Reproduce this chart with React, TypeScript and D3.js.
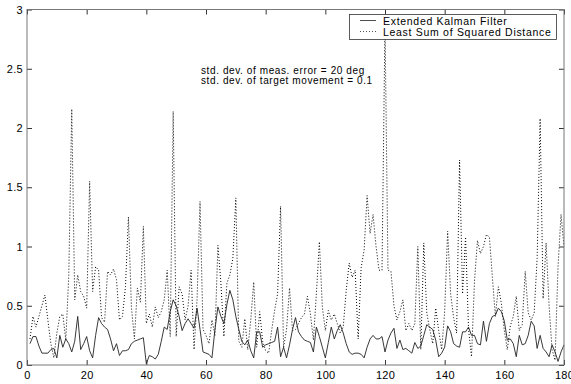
import { useRef, useEffect } from 'react'
import { select, scaleLinear, axisLeft, axisBottom, axisTop, axisRight, line } from 'd3'

// error per step (steps 1..180)
const ekf = [
  0.18, 0.24, 0.24, 0.16, 0.10, 0.10, 0.10, 0.13, 0.14, 0.06,
  0.25, 0.15, 0.22, 0.18, 0.11, 0.20, 0.41, 0.13, 0.18, 0.24,
  0.12, 0.06, 0.25, 0.40, 0.35, 0.32, 0.30, 0.22, 0.12, 0.18,
  0.08, 0.12, 0.12, 0.13, 0.18, 0.20, 0.21, 0.22, 0.23, 0.01,
  0.08, 0.07, 0.05, 0.09, 0.20, 0.32, 0.30, 0.45, 0.55, 0.50,
  0.41, 0.29, 0.35, 0.39, 0.35, 0.31, 0.48, 0.30, 0.11, 0.10,
  0.09, 0.06, 0.30, 0.49, 0.41, 0.35, 0.51, 0.63, 0.55, 0.41,
  0.30, 0.20, 0.17, 0.21, 0.12, 0.06, 0.28, 0.28, 0.15, 0.17,
  0.18, 0.19, 0.20, 0.32, 0.07, 0.15, 0.06, 0.17, 0.30, 0.40,
  0.28, 0.24, 0.21, 0.20, 0.19, 0.11, 0.32, 0.24, 0.15, 0.06,
  0.19, 0.32, 0.22, 0.29, 0.34, 0.27, 0.18, 0.11, 0.09, 0.10,
  0.10, 0.09, 0.06, 0.15, 0.22, 0.25, 0.22, 0.22, 0.24, 0.11,
  0.21, 0.27, 0.31, 0.14, 0.21, 0.13, 0.14, 0.12, 0.10, 0.19,
  0.14, 0.16, 0.25, 0.34, 0.32, 0.30, 0.21, 0.07, 0.10, 0.15,
  0.33, 0.28, 0.18, 0.16, 0.15, 0.28, 0.28, 0.32, 0.25, 0.25,
  0.18, 0.17, 0.37, 0.20, 0.35, 0.41, 0.42, 0.48, 0.45, 0.37,
  0.21, 0.22, 0.18, 0.07, 0.25, 0.17, 0.18, 0.25, 0.37, 0.33,
  0.14, 0.25, 0.14, 0.11, 0.07, 0.17, 0.11, 0.03, 0.11, 0.17,
]

const lssd = [
  0.22, 0.41, 0.32, 0.41, 0.50, 0.59, 0.38, 0.18, 0.06, 0.27,
  0.41, 0.43, 0.21, 0.75, 2.16, 0.55, 0.76, 0.62, 0.58, 0.48,
  1.55, 0.62, 0.83, 0.80, 0.40, 0.36, 0.79, 0.76, 0.81, 0.72,
  0.38, 0.41, 0.66, 1.25, 0.49, 0.22, 0.65, 0.53, 1.17, 0.35,
  0.43, 0.32, 0.49, 0.40, 0.45, 0.55, 0.80, 0.24, 2.14, 0.24,
  0.66, 0.60, 0.38, 0.50, 0.80, 0.13, 0.55, 1.38, 0.30, 0.25,
  0.18, 0.38, 0.25, 1.01, 0.69, 0.24, 0.69, 0.76, 0.90, 1.41,
  0.20, 0.15, 0.39, 0.13, 0.38, 0.70, 0.15, 0.45, 0.20, 0.12,
  0.10, 0.29, 0.46, 0.60, 1.34, 0.15, 0.30, 0.65, 0.29, 0.30,
  0.35, 0.40, 0.43, 0.58, 0.43, 0.21, 0.60, 1.04, 0.49, 0.29,
  0.46, 0.38, 0.43, 0.35, 0.27, 0.32, 0.63, 0.86, 0.74, 0.80,
  0.22, 0.82, 0.97, 1.43, 1.11, 1.27, 1.00, 0.80, 0.80, 2.90,
  0.80, 0.79, 0.50, 0.38, 0.45, 0.55, 0.29, 0.35, 0.29, 0.35,
  1.00, 0.13, 1.03, 0.44, 0.30, 0.18, 0.48, 0.29, 0.13, 0.45,
  1.13, 0.60, 0.40, 0.27, 1.73, 0.60, 1.08, 0.30, 0.07, 0.71,
  1.05, 0.94, 1.00, 1.10, 1.08, 0.74, 0.41, 0.66, 0.52, 0.29,
  0.13, 0.33, 0.41, 0.58, 0.29, 0.34, 0.79, 0.44, 0.38, 0.44,
  0.90, 2.08, 0.56, 1.03, 0.50, 0.13, 0.04, 0.83, 1.27, 1.00,
]

const xTicks = [0, 20, 40, 60, 80, 100, 120, 140, 160, 180]
const yTicks = [0, 0.5, 1, 1.5, 2, 2.5, 3]
const legendLabels = ['Extended Kalman Filter', 'Least Sum of Squared Distance']
const notes = ['std. dev. of meas. error = 20 deg', 'std. dev. of target movement = 0.1']

const W = 571
const H = 384
const plot = { left: 27, right: 564, top: 9.5, bottom: 365 }
const FONT = '"Liberation Sans", Arial, Helvetica, sans-serif'

const App = () => {
  const svgRef = useRef(null)

  useEffect(() => {
    const svg = select(svgRef.current)
    svgRef.current.innerHTML = ''

    const xScale = scaleLinear().domain([0, 180]).range([plot.left, plot.right])
    const yScale = scaleLinear().domain([0, 3]).range([plot.bottom, plot.top])

    svg.append('rect')
      .attr('width', W).attr('height', H).attr('fill', '#fff')

    // series
    const path = line()
      .x((d, i) => xScale(i + 1))
      .y(d => yScale(d))

    svg.append('path')
      .datum(lssd)
      .attr('d', path)
      .attr('fill', 'none')
      .attr('stroke', '#000')
      .attr('stroke-width', 1)
      .attr('stroke-dasharray', '1 2')

    svg.append('path')
      .datum(ekf)
      .attr('d', path)
      .attr('fill', 'none')
      .attr('stroke', '#222')
      .attr('stroke-width', 0.9)

    // axes, ticks pointing inward on all four sides
    const styleAxis = g => {
      g.select('.domain').remove()
      g.selectAll('line').attr('stroke', '#333')
      g.selectAll('text')
        .attr('fill', '#000')
        .style('font-family', FONT)
        .style('font-size', '11px')
        .style('letter-spacing', '0.3px')
    }

    svg.append('g')
      .attr('transform', `translate(0,${plot.bottom})`)
      .call(axisBottom(xScale).tickValues(xTicks).tickSizeInner(-5).tickSizeOuter(0).tickPadding(6).tickFormat(d => `${d}`))
      .call(styleAxis)

    svg.append('g')
      .attr('transform', `translate(0,${plot.top})`)
      .call(axisTop(xScale).tickValues(xTicks).tickSizeInner(-5).tickSizeOuter(0).tickFormat(() => ''))
      .call(styleAxis)

    svg.append('g')
      .attr('transform', `translate(${plot.left},0)`)
      .call(axisLeft(yScale).tickValues(yTicks).tickSizeInner(-5).tickSizeOuter(0).tickPadding(4).tickFormat(d => `${d}`))
      .call(styleAxis)

    svg.append('g')
      .attr('transform', `translate(${plot.right},0)`)
      .call(axisRight(yScale).tickValues(yTicks).tickSizeInner(-5).tickSizeOuter(0).tickFormat(() => ''))
      .call(styleAxis)

    svg.append('rect')
      .attr('x', plot.left)
      .attr('y', plot.top)
      .attr('width', plot.right - plot.left)
      .attr('height', plot.bottom - plot.top)
      .attr('fill', 'none')
      .attr('stroke', '#777')
      .attr('stroke-width', 1)

    // annotation
    svg.append('g')
      .selectAll('text')
      .data(notes)
      .join('text')
      .attr('x', 201)
      .attr('y', (d, i) => 74 + i * 10)
      .style('font-family', FONT)
      .style('font-size', '10px')
      .style('letter-spacing', '0.6px')
      .text(d => d)

    // legend
    const legend = svg.append('g')
    legend.append('rect')
      .attr('x', 349.5).attr('y', 14.5)
      .attr('width', 207).attr('height', 25)
      .attr('fill', '#fff')
      .attr('stroke', '#333')
      .attr('stroke-width', 0.8)

    legend.selectAll('line')
      .data(legendLabels)
      .join('line')
      .attr('x1', 360).attr('x2', 376)
      .attr('y1', (d, i) => 20.5 + i * 11)
      .attr('y2', (d, i) => 20.5 + i * 11)
      .attr('stroke', '#222')
      .attr('stroke-width', 0.8)
      .attr('stroke-dasharray', (d, i) => i === 1 ? '1 2' : null)

    legend.selectAll('text')
      .data(legendLabels)
      .join('text')
      .attr('x', 383)
      .attr('y', (d, i) => 24.5 + i * 11)
      .style('font-family', FONT)
      .style('font-size', '10.5px')
      .style('letter-spacing', '0.7px')
      .text(d => d)
  }, [])

  return (
    <svg ref={svgRef} width={W} height={H} style={{ position: 'absolute', left: 0, top: 0 }} />
  )
}

export default App
